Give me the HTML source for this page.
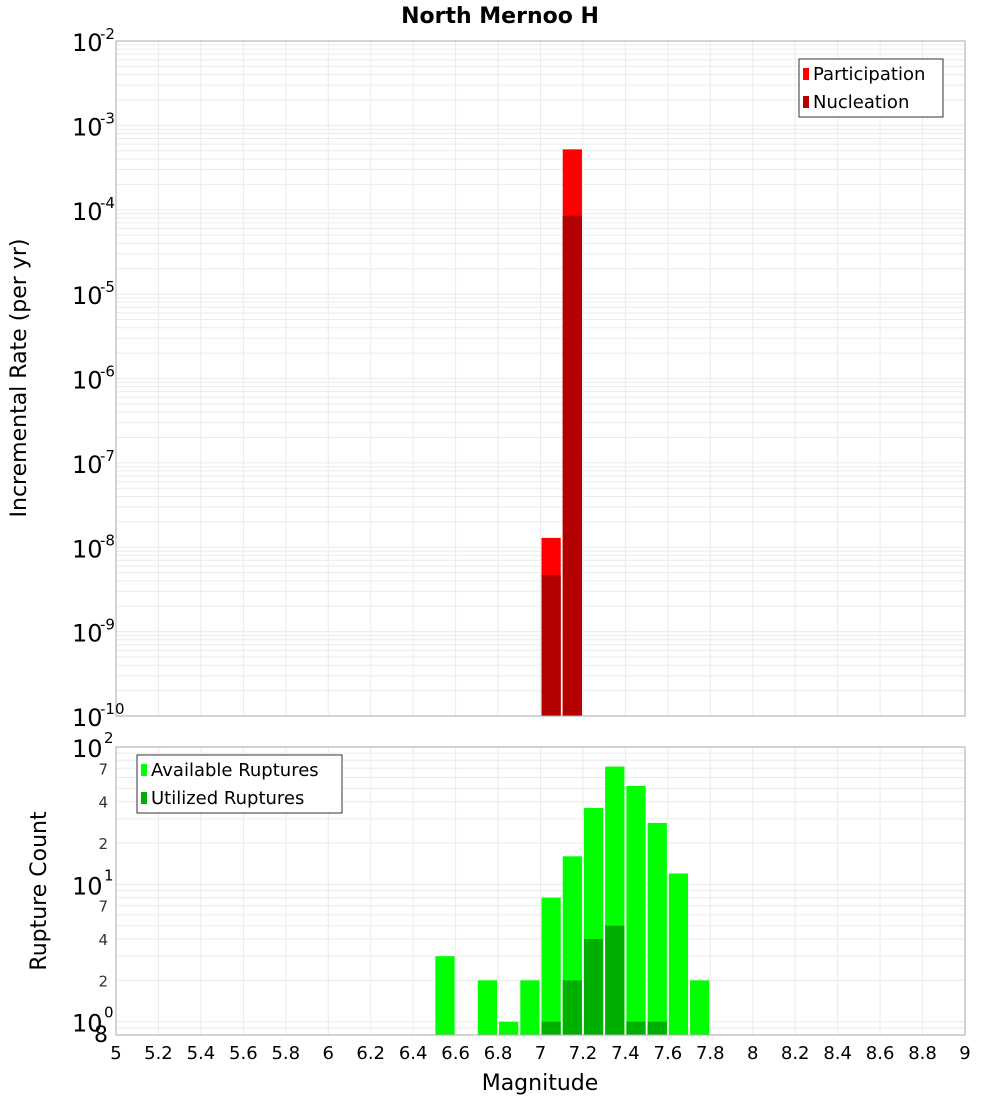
<!DOCTYPE html>
<html><head><meta charset="utf-8"><style>
body{margin:0;background:#fff;font-family:"DejaVu Sans","Liberation Sans",sans-serif}
svg text{font-family:"DejaVu Sans","Liberation Sans",sans-serif}
</style></head><body>
<svg id="c" width="1000" height="1100" xmlns="http://www.w3.org/2000/svg"></svg>
<script>
const topCenters=[7.05,7.15];
const participation=[1.29e-8,5.2e-4];
const nucleation=[4.7e-9,8.5e-5];
const botCenters=[6.55,6.75,6.85,6.95,7.05,7.15,7.25,7.35,7.45,7.55,7.65,7.75];
const available=[3,2,1,2,8,16,36,72,52,28,12,2];
const utilized=[0,0,0,0,1,2,4,5,1,1,0,0];
const xTicks=["5","5.2","5.4","5.6","5.8","6","6.2","6.4","6.6","6.8","7","7.2","7.4","7.6","7.8","8","8.2","8.4","8.6","8.8","9"];
const topExp=[-2,-3,-4,-5,-6,-7,-8,-9,-10];
const botMinor=["7","4","2","7","4","2"];
const botMinorVals=[70,40,20,7,4,2];

const svg=document.getElementById('c');const NS='http://www.w3.org/2000/svg';
function mk(t,a,p,txt){const e=document.createElementNS(NS,t);for(const k in a)e.setAttribute(k,a[k]);if(txt!==undefined)e.textContent=txt;(p||svg).appendChild(e);return e;}
const X0=116,X1=965;
const xs=v=>X0+(v-5)/4*(X1-X0);
const T0=41,T1=716;const ty=v=>T0+(-2-Math.log10(v))/8*(T1-T0);
const B0=747,B1=1035;const lmin=Math.log10(0.8),lmax=2;const by=v=>B1-(Math.log10(v)-lmin)/(lmax-lmin)*(B1-B0);

let t=mk('text',{x:500,y:23,'text-anchor':'middle','font-size':22,'font-weight':'bold'},null,'North Mernoo H');


// top grid
let g=mk('g',{});
for(let d=-10;d<-2;d++)for(let m=1;m<10;m++){const y=ty(m*Math.pow(10,d));mk('line',{x1:X0,x2:X1,y1:y,y2:y,stroke:'#ebebeb'},g);}
for(let i=0;i<=20;i++){const x=xs(5+i*0.2);mk('line',{x1:x,x2:x,y1:T0,y2:T1,stroke:'#ebebeb'},g);mk('line',{x1:x,x2:x,y1:B0,y2:B1,stroke:'#ebebeb'},g);}
let g2=mk('g',{});
for(let d=-1;d<2;d++)for(let m=1;m<10;m++){const v=m*Math.pow(10,d);if(v<0.8)continue;const y=by(v);mk('line',{x1:X0,x2:X1,y1:y,y2:y,stroke:'#ebebeb'},g2);}

// top bars
const bw=xs(5.1)-xs(5);
topCenters.forEach((c,i)=>{
 let r=mk('rect',{x:xs(c)-bw/2+1,y:ty(participation[i]),width:bw-2,height:T1-ty(participation[i]),fill:'#ff0000'});
 
 r=mk('rect',{x:xs(c)-bw/2+1,y:ty(nucleation[i]),width:bw-2,height:T1-ty(nucleation[i]),fill:'#b30000'});
 
});
botCenters.forEach((c,i)=>{
 let r=mk('rect',{x:xs(c)-bw/2+1,y:by(available[i]),width:bw-2,height:B1-by(available[i]),fill:'#00ff00'});
 
 if(utilized[i]>0){r=mk('rect',{x:xs(c)-bw/2+1,y:by(utilized[i]),width:bw-2,height:B1-by(utilized[i]),fill:'#00b000'});
 }
});
let r=mk('rect',{x:X0,y:T0,width:X1-X0,height:T1-T0,fill:'none',stroke:'#aaa'});
r=mk('rect',{x:X0,y:B0,width:X1-X0,height:B1-B0,fill:'none',stroke:'#aaa'});

// top y labels
topExp.forEach(e=>{const y=ty(Math.pow(10,e));const tt=mk('text',{x:72,y:y+10,'font-size':24},null,'10');
 
 const s=mk('text',{x:100,y:y-2,'font-size':15},null,String(e));});
// bottom y labels
[[100,'2'],[10,'1'],[1,'0']].forEach(([v,e])=>{const y=by(v);const tt=mk('text',{x:72,y:y+10,'font-size':24},null,'10');
 
 const s=mk('text',{x:104,y:y-4,'font-size':15},null,e);});
botMinor.forEach((l,i)=>{const tt=mk('text',{x:108,y:by(botMinorVals[i])+6,'font-size':15,'text-anchor':'end',fill:'#333'},null,l);
 });
t=mk('text',{x:108,y:1042,'font-size':22,'text-anchor':'end'},null,'8');

xTicks.forEach((l,i)=>{const tt=mk('text',{x:xs(5+i*0.2),y:1059,'font-size':18,'text-anchor':'middle'},null,l);
 });
t=mk('text',{x:540,y:1090,'font-size':22,'text-anchor':'middle'},null,'Magnitude');
t=mk('text',{x:26,y:378,'font-size':22,'text-anchor':'middle',transform:'rotate(-90 26 378)'},null,'Incremental Rate (per yr)');
t=mk('text',{x:46,y:891,'font-size':22,'text-anchor':'middle',transform:'rotate(-90 46 891)'},null,'Rupture Count');

// legends
function legend(x,y,w,items,name){const lg=mk('g',{});
 mk('rect',{x:x,y:y,width:w,height:58,fill:'#fff',stroke:'#333'},lg);
 items.forEach((it,i)=>{mk('rect',{x:x+4,y:y+9+i*28,width:6,height:12,fill:it[1]},lg);
  const tt=mk('text',{x:x+14,y:y+21+i*28,'font-size':18},lg,it[0]);});}
legend(799,59,144,[['Participation','#ff0000'],['Nucleation','#b30000']],'top-legend');
legend(137,755,205,[['Available Ruptures','#00ff00'],['Utilized Ruptures','#00b000']],'bottom-legend');
</script></body></html>
